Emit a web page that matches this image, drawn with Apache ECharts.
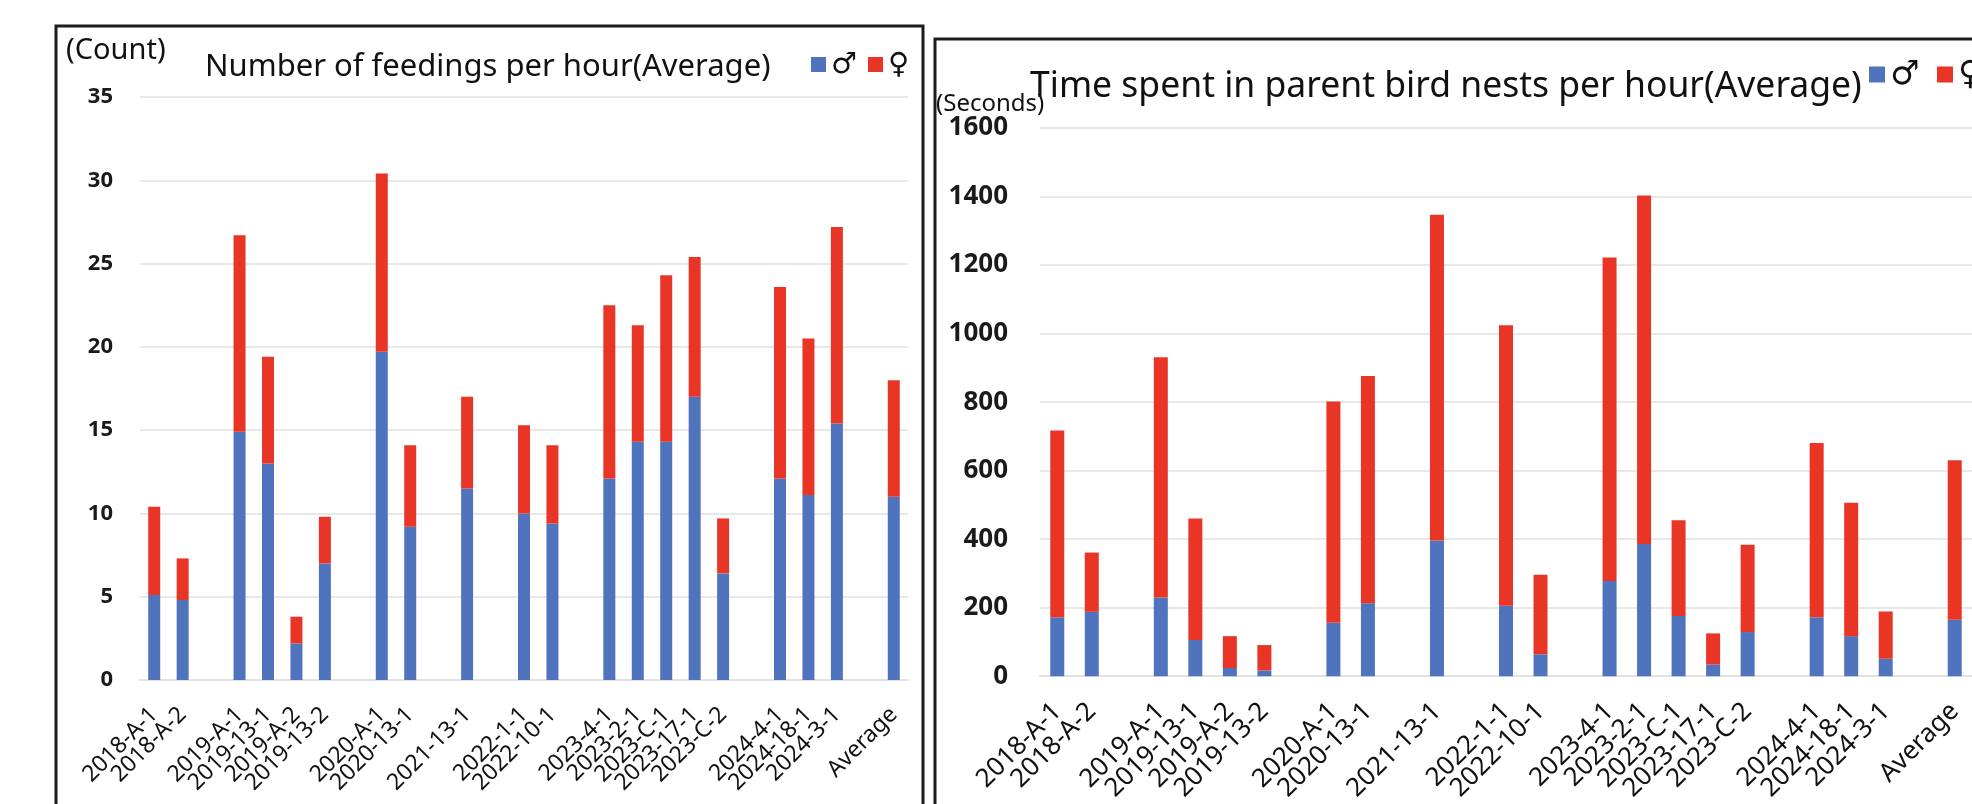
<!DOCTYPE html>
<html>
<head>
<meta charset="utf-8">
<title>Parent bird feeding and nest time</title>
<script src="https://cdn.jsdelivr.net/npm/echarts@6/dist/echarts.min.js"></script>
<style>
  html, body { margin: 0; padding: 0; background: #ffffff; }
  #chart { width: 1972px; height: 804px; }
</style>
</head>
<body>
<div id="chart"></div>
<script>
// Nest observations, grouped by year; empty names leave a gap between years.
const categories = [
  '2018-A-1', '2018-A-2', '',
  '2019-A-1', '2019-13-1', '2019-A-2', '2019-13-2', '',
  '2020-A-1', '2020-13-1', '',
  '2021-13-1', '',
  '2022-1-1', '2022-10-1', '',
  '2023-4-1', '2023-2-1', '2023-C-1', '2023-17-1', '2023-C-2', '',
  '2024-4-1', '2024-18-1', '2024-3-1', '',
  'Average'
];

// Feedings per hour (count)
const feedMale   = [5.1, 4.8, null, 14.9, 13.0, 2.2, 7.0, null, 19.7, 9.2, null, 11.5, null, 10.0, 9.4, null, 12.1, 14.3, 14.3, 17.0, 6.4, null, 12.1, 11.1, 15.4, null, 11.0];
const feedFemale = [5.3, 2.5, null, 11.8, 6.4, 1.6, 2.8, null, 10.7, 4.9, null, 5.5, null, 5.3, 4.7, null, 10.4, 7.0, 10.0, 8.4, 3.3, null, 11.5, 9.4, 11.8, null, 7.0];

// Time spent in the nest per hour (seconds)
const nestMale   = [172, 188, null, 230, 106, 24, 17, null, 156, 213, null, 396, null, 206, 64, null, 278, 386, 176, 34, 129, null, 172, 117, 51, null, 165];
const nestFemale = [545, 173, null, 701, 354, 93, 74, null, 646, 663, null, 951, null, 818, 232, null, 944, 1017, 279, 91, 255, null, 509, 389, 138, null, 465];

const feedTicks = { min: 0, max: 35, interval: 5 };
const nestTicks = { min: 0, max: 1600, interval: 200 };

const MALE = '♂';
const FEMALE = '♀';
const BLUE = '#5073be';
const RED = '#e93526';
const FONT = '"Noto Sans", "DejaVu Sans", sans-serif';

const chart = echarts.init(document.getElementById('chart'), null, { renderer: 'canvas' });

function catAxis(gridIndex, fontSize, margin) {
  return {
    type: 'category',
    gridIndex: gridIndex,
    data: categories,
    axisTick: { show: false },
    axisLine: { show: true, lineStyle: { color: '#e2e2e2', width: 2 } },
    axisLabel: {
      interval: 0,
      rotate: 45,
      margin: margin,
      color: '#111111',
      fontFamily: FONT,
      fontSize: fontSize,
      hideOverlap: false
    }
  };
}

function valAxis(gridIndex, ticks, fontSize, margin) {
  return {
    type: 'value',
    gridIndex: gridIndex,
    min: ticks.min,
    max: ticks.max,
    interval: ticks.interval,
    axisLine: { show: false },
    axisTick: { show: false },
    splitLine: { show: true, lineStyle: { color: '#e8e8e8', width: 2 } },
    axisLabel: {
      margin: margin,
      color: '#1a1a1a',
      fontFamily: FONT,
      fontWeight: 'bold',
      fontSize: fontSize,
      formatter: function (v) { return String(v); }
    }
  };
}

function bar(name, xi, data, color, width) {
  return {
    type: 'bar',
    name: name,
    xAxisIndex: xi,
    yAxisIndex: xi,
    stack: 'total' + xi,
    data: data,
    barWidth: width,
    itemStyle: { color: color },
    emphasis: { disabled: true },
    animation: false
  };
}

// One legend entry per component so each swatch can sit where it belongs.
function legendItem(name, left, top, size, fontSize) {
  return {
    left: left,
    top: top,
    padding: 0,
    orient: 'horizontal',
    icon: 'rect',
    itemWidth: size,
    itemHeight: size,
    selectedMode: false,
    data: [name],
    textStyle: {
      fontFamily: FONT,
      fontSize: fontSize,
      lineHeight: fontSize,
      color: '#111111'
    }
  };
}

function text(x, y, str, fontSize) {
  return {
    type: 'text',
    x: x,
    y: y,
    style: {
      text: str,
      fontFamily: FONT,
      fontSize: fontSize,
      fill: '#111111',
      align: 'left',
      verticalAlign: 'middle'
    }
  };
}

chart.setOption({
  backgroundColor: '#ffffff',
  animation: false,
  grid: [
    { left: 140, top: 97, width: 768, height: 583 },
    { left: 1040, top: 128, width: 942, height: 551 }
  ],
  xAxis: [catAxis(0, 23, 31), catAxis(1, 26, 31)],
  yAxis: [valAxis(0, feedTicks, 22, 27), valAxis(1, nestTicks, 26, 32)],
  legend: [
    legendItem(MALE, 811, 50, 15, 29),
    legendItem(FEMALE, 868, 50, 15, 29),
    legendItem(MALE, 1869, 58, 16, 33),
    legendItem(FEMALE, 1937, 58, 16, 33)
  ],
  series: [
    bar(MALE, 0, feedMale, BLUE, 12),
    bar(FEMALE, 0, feedFemale, RED, 12),
    bar(MALE, 1, nestMale, BLUE, 14),
    bar(FEMALE, 1, nestFemale, RED, 14)
  ],
  graphic: [
    {
      type: 'rect',
      shape: { x: 56, y: 26, width: 867, height: 830 },
      style: { fill: 'none', stroke: '#1c1c1c', lineWidth: 3 },
      silent: true
    },
    {
      type: 'rect',
      shape: { x: 935, y: 39, width: 1100, height: 830 },
      style: { fill: 'none', stroke: '#1c1c1c', lineWidth: 3 },
      silent: true
    },
    text(66, 51, '(Count)', 29),
    text(205, 67, 'Number of feedings per hour(Average)', 31),
    text(936, 104, '(Seconds)', 24),
    text(1030, 87, 'Time spent in parent bird nests per hour(Average)', 35.5)
  ]
});
</script>
</body>
</html>
